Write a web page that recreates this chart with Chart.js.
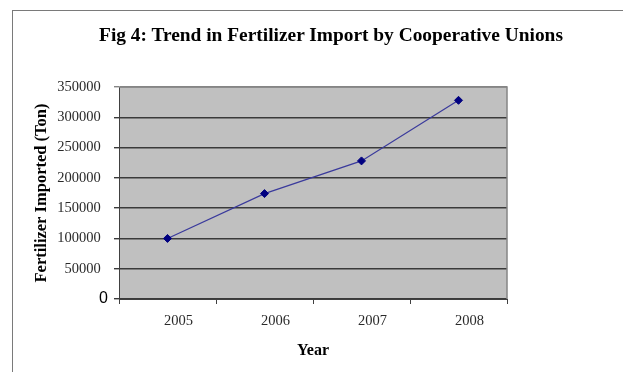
<!DOCTYPE html>
<html>
<head>
<meta charset="utf-8">
<script src="https://cdn.jsdelivr.net/npm/chart.js@4"></script>
<style>
  html, body { margin: 0; padding: 0; background: #fff; overflow: hidden; }
  #wrap { position: relative; width: 623px; height: 372px; overflow: hidden; }
  #frame { position: absolute; left: 12px; top: 10px; width: 700px; height: 500px;
           border-left: 1px solid #7a7a7a; border-top: 1px solid #7a7a7a; }
  #title { position: absolute; left: 0; width: 662px; top: 24px; text-align: center;
           font: bold 19.4px "Liberation Serif", "Times New Roman", serif; color: #000; }
  canvas { position: absolute; left: 0; top: 0; }
</style>
</head>
<body>
<div id="wrap">
  <div id="frame"></div>
  <canvas id="c" width="623" height="372"></canvas>
  <div id="title">Fig 4: Trend in Fertilizer Import by Cooperative Unions</div>
</div>
<script>
// Fertilizer imported by cooperative unions, tonnes per year
const years = ['2005', '2006', '2007', '2008'];
const fertilizerImported = [100000, 174000, 228000, 328000];
const yTickValues = [0, 50000, 100000, 150000, 200000, 250000, 300000, 350000];

const SERIF = '"Liberation Serif", "Times New Roman", serif';
const SANS = '"Liberation Sans", Arial, sans-serif';

const isZeroTick = ctx => !!(ctx.tick && ctx.tick.value === 0);

// Grey plot background with a light frame on the top and right edges
const plotFrame = {
  id: 'plotFrame',
  beforeDraw(chart) {
    const { ctx, chartArea: a } = chart;
    ctx.save();
    ctx.fillStyle = '#c0c0c0';
    ctx.fillRect(a.left, a.top, a.right - a.left, a.bottom - a.top);
    ctx.restore();
  },
  beforeDatasetsDraw(chart) {
    const { ctx, chartArea: a } = chart;
    ctx.save();
    ctx.strokeStyle = '#858585';
    ctx.lineWidth = 1.5;
    ctx.beginPath();
    ctx.moveTo(a.left, a.top);
    ctx.lineTo(a.right, a.top);
    ctx.lineTo(a.right, a.bottom);
    ctx.stroke();
    ctx.restore();
  }
};

new Chart(document.getElementById('c'), {
  type: 'line',
  data: {
    labels: years,
    datasets: [{
      data: fertilizerImported,
      borderColor: '#3a3a9c',
      borderWidth: 1.2,
      pointStyle: 'rectRot',
      pointRadius: 4,
      pointBackgroundColor: '#000080',
      pointBorderColor: '#000080',
      pointBorderWidth: 1,
      tension: 0
    }]
  },
  options: {
    responsive: false,
    animation: false,
    layout: { padding: { left: 0, top: 87, right: 116, bottom: 0 } },
    plugins: {
      legend: { display: false },
      title: { display: false },
      tooltip: { enabled: false }
    },
    scales: {
      x: {
        offset: true,
        grid: {
          offset: true,
          drawOnChartArea: false,
          drawTicks: true,
          tickLength: 5,
          color: '#404040'
        },
        border: { display: true, color: '#404040', width: 1 },
        ticks: {
          color: '#2a2a2a',
          font: { family: SERIF, size: 14.5 },
          padding: 8,
          labelOffset: 11,
          maxRotation: 0
        },
        title: {
          display: true,
          text: 'Year',
          color: '#000',
          font: { family: SERIF, size: 16, weight: 'bold' },
          padding: { top: 0, bottom: 12 }
        },
        afterFit(scale) { scale.height = 73; }
      },
      y: {
        min: 0,
        max: 350000,
        afterBuildTicks(scale) { scale.ticks = yTickValues.map(v => ({ value: v })); },
        grid: {
          drawTicks: true,
          tickLength: 5,
          lineWidth: 1.4,
          color: ctx => (ctx.tick && ctx.tick.value === 350000) ? '#858585' : '#3a3a3a'
        },
        border: { display: true, color: '#404040', width: 1 },
        ticks: {
          padding: 6,
          color: ctx => isZeroTick(ctx) ? '#000' : '#2a2a2a',
          font: ctx => isZeroTick(ctx)
            ? { family: SANS, size: 16 }
            : { family: SERIF, size: 14.5 },
          callback: v => v === 0 ? '0' : String(v) + '  '
        },
        title: {
          display: true,
          text: 'Fertilizer Imported (Ton)',
          color: '#000',
          font: { family: SERIF, size: 16.5, weight: 'bold' },
          padding: { top: 32, bottom: 0 }
        },
        afterFit(scale) { scale.width = 119; }
      }
    }
  },
  plugins: [plotFrame]
});
</script>
</body>
</html>
